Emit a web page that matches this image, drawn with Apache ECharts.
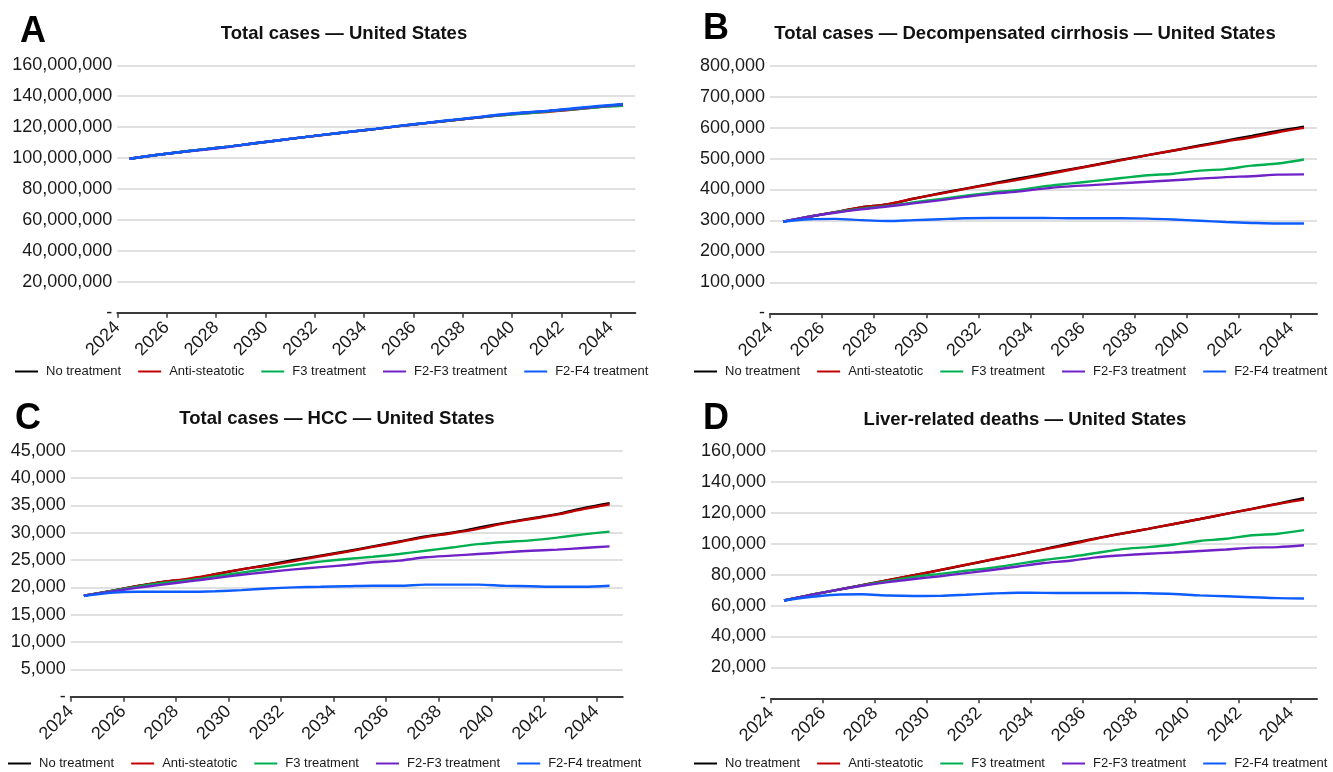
<!DOCTYPE html>
<html>
<head>
<meta charset="utf-8">
<script src="https://cdn.jsdelivr.net/npm/echarts@6/dist/echarts.min.js"></script>
<style>
html,body{margin:0;padding:0;background:#fff;}
#chart{width:1333px;height:772px;}
</style>
</head>
<body>
<div id="chart"></div>
<script>
// ---------- DATA ----------
const years = [2024,2025,2026,2027,2028,2029,2030,2031,2032,2033,2034,2035,2036,2037,2038,2039,2040,2041,2042,2043,2044];
const tickYears = [2024,2026,2028,2030,2032,2034,2036,2038,2040,2042,2044];
const seriesNames = ['No treatment','Anti-steatotic','F3 treatment','F2-F3 treatment','F2-F4 treatment'];

// Panel A: Total cases (millions)
const aNoTreatment = [99.6,101.8,103.8,105.6,107.4,109.4,111.4,113.4,115.3,117.1,118.9,120.8,122.6,124.3,126.0,127.8,129.3,130.5,131.8,133.3,134.7];
const aAntiSteatotic = [99.6,101.8,103.8,105.6,107.4,109.4,111.4,113.4,115.2,117.1,118.9,120.8,122.6,124.3,126.0,127.6,129.0,130.0,131.4,133.0,134.4];
const aF3 = [99.6,101.8,103.8,105.6,107.4,109.4,111.4,113.4,115.3,117.1,118.9,120.8,122.6,124.3,126.0,127.5,128.8,130.2,131.5,132.9,133.8];
const aF2F3 = [99.6,101.8,103.7,105.3,107.2,109.4,111.4,113.4,115.3,117.1,118.9,120.8,122.6,124.4,126.1,127.8,129.3,130.5,131.8,133.3,134.6];
const aF2F4 = [99.6,101.8,103.8,105.6,107.4,109.4,111.4,113.4,115.3,117.2,119.0,121.0,122.7,124.6,126.2,128.2,129.5,130.6,132.2,133.7,135.0];

// Panel B: Decompensated cirrhosis (thousands)
const bNoTreatment = [296,312,327,342,352,370,387,403,419,435,450,465,480,496,511,526,542,558,573,589,603];
const bAntiSteatotic = [296,312,327,342,352,370,386,402,417,431,447,463,479,495,511,526,540,555,569,585,599];
const bF3 = [296,312,326,338,347,358,369,380,390,398,410,419,428,437,446,451,461,466,477,484,497];
const bF2F3 = [296,312,325,336,345,355,365,376,386,393,403,410,415,420,425,430,435,440,443,448,449];
const bF2F4 = [296,304,305,301,298,301,304,307,308,308,308,307,307,307,306,303,299,295,292,290,290];

// Panel C: HCC (thousands)
const cNoTreatment = [18.5,19.3,20.2,21.0,21.5,22.4,23.3,24.1,25.0,25.8,26.6,27.5,28.4,29.3,30.0,30.9,31.8,32.6,33.4,34.5,35.4];
const cAntiSteatotic = [18.5,19.3,20.2,21.0,21.6,22.4,23.3,24.0,24.8,25.7,26.5,27.4,28.3,29.2,29.9,30.7,31.7,32.5,33.3,34.3,35.2];
const cF3 = [18.5,19.3,20.1,20.8,21.3,22.0,22.7,23.4,24.1,24.7,25.2,25.6,26.1,26.7,27.3,27.9,28.3,28.6,29.1,29.7,30.2];
const cF2F3 = [18.5,19.2,19.9,20.5,21.1,21.7,22.3,22.8,23.3,23.7,24.1,24.6,24.9,25.5,25.8,26.1,26.4,26.7,26.9,27.2,27.5];
const cF2F4 = [18.4,19.0,19.2,19.2,19.2,19.3,19.5,19.8,20.0,20.1,20.2,20.3,20.3,20.5,20.5,20.5,20.3,20.2,20.1,20.1,20.3];

// Panel D: Liver-related deaths (thousands)
const dNoTreatment = [63.3,66.8,70.0,73.2,76.4,79.6,82.9,86.3,89.7,93.0,96.5,100.2,103.5,106.6,109.6,112.8,116.0,119.3,122.6,126.0,129.4];
const dAntiSteatotic = [63.3,66.8,70.0,73.2,76.4,79.7,83.0,86.4,89.8,93.0,96.3,99.5,103.2,106.5,109.6,112.8,116.0,119.3,122.5,125.7,128.5];
const dF3 = [63.3,66.8,70.0,73.0,75.8,78.5,80.5,82.5,84.5,87.0,89.5,91.5,94.0,96.5,97.8,99.5,101.8,103.2,105.5,106.5,108.8];
const dF2F3 = [63.3,66.8,70.0,72.8,75.2,77.2,79.0,81.0,83.0,85.3,87.5,89.0,91.2,92.5,93.5,94.3,95.3,96.3,97.5,97.8,99.0];
const dF2F4 = [63.3,65.5,67.0,67.3,66.5,66.2,66.3,67.0,67.8,68.3,68.2,68.1,68.1,68.2,68.0,67.5,66.6,66.0,65.4,64.8,64.6];

const yTicksA = {max:160000000, interval:20000000};
const yTicksB = {max:800000, interval:100000};
const yTicksC = {max:45000, interval:5000};
const yTicksD = {max:160000, interval:20000};

const panelTitles = ['Total cases \u2014 United States','Total cases \u2014 Decompensated cirrhosis \u2014 United States','Total cases \u2014 HCC \u2014 United States','Liver-related deaths \u2014 United States'];
const panelLetters = ['A','B','C','D'];

// ---------- STYLE / LAYOUT ----------
const colors = ['#000000','#c00000','#00b050','#7022c8','#0d5cff'];
const FONT = "'Liberation Sans', Arial, sans-serif";
const panels = [
  {data:[aNoTreatment,aAntiSteatotic,aF3,aF2F3,aF2F4], unit:1e6, y:yTicksA,
   grid:{left:117.3, top:65.3, width:518, height:247.4}, title:{x:344, y:33}, letter:{x:20, y:32}, legend:{left:15, top:365}},
  {data:[bNoTreatment,bAntiSteatotic,bF3,bF2F3,bF2F4], unit:1e3, y:yTicksB,
   grid:{left:770, top:65.7, width:547, height:247.6}, title:{x:1025, y:33}, letter:{x:703, y:29}, legend:{left:694, top:365}},
  {data:[cNoTreatment,cAntiSteatotic,cF3,cF2F3,cF2F4], unit:1e3, y:yTicksC,
   grid:{left:70.7, top:450.7, width:552, height:246}, title:{x:337, y:418}, letter:{x:15, y:419}, legend:{left:8, top:757}},
  {data:[dNoTreatment,dAntiSteatotic,dF3,dF2F3,dF2F4], unit:1e3, y:yTicksD,
   grid:{left:771, top:451, width:546, height:247.3}, title:{x:1025, y:419}, letter:{x:703, y:419}, legend:{left:694, top:757}}
];

function fmt(v){ return v === 0 ? '-' : String(Math.round(v)).replace(/\B(?=(\d{3})+(?!\d))/g, ','); }

const option = {
  backgroundColor:'#ffffff',
  animation:false,
  grid:[], xAxis:[], yAxis:[], series:[], legend:[], title:[]
};

panels.forEach((p, k) => {
  option.grid.push(Object.assign({containLabel:false}, p.grid));
  option.xAxis.push({
    type:'value', gridIndex:k, min:2024, max:2045, interval:2,
    axisLine:{show:true, lineStyle:{color:'#3a3a3a', width:2}},
    axisTick:{show:true, customValues:tickYears, length:5, inside:false, lineStyle:{color:'#3a3a3a', width:1.5}},
    axisLabel:{customValues:tickYears, rotate:45, margin:12, fontSize:18, fontFamily:FONT, color:'#1a1a1a',
      formatter:(v)=>String(v)},
    splitLine:{show:false}
  });
  option.yAxis.push({
    type:'value', gridIndex:k, min:0, max:p.y.max, interval:p.y.interval,
    axisLine:{show:false}, axisTick:{show:false},
    axisLabel:{margin:5, fontSize:18, fontFamily:FONT, color:'#1a1a1a', formatter:fmt},
    splitLine:{show:true, lineStyle:{color:'#d6d6d6', width:1.5}}
  });
  p.data.forEach((arr, s) => {
    option.series.push({
      name:seriesNames[s], type:'line', xAxisIndex:k, yAxisIndex:k,
      data: years.map((yr, i) => [yr + 0.5, arr[i] * p.unit]),
      symbol:'none', smooth:0.3,
      lineStyle:{color:colors[s], width:2.4},
      itemStyle:{color:colors[s]},
      z: 2 + s
    });
  });
  option.legend.push({
    data:seriesNames, left:p.legend.left, top:p.legend.top, orient:'horizontal',
    icon:'rect', itemWidth:23, itemHeight:2, itemGap:17, padding:0,
    textStyle:{fontSize:13, fontFamily:FONT, color:'#1a1a1a', padding:[0,0,0,3]},
    selectedMode:false
  });
  option.title.push({
    text:panelTitles[k], left:p.title.x, top:p.title.y - 9, textAlign:'center', padding:0,
    textStyle:{fontSize:18.5, fontWeight:'bold', fontFamily:FONT, color:'#111'}
  });
  option.title.push({
    text:panelLetters[k], left:p.letter.x, top:p.letter.y - 18, padding:0,
    textStyle:{fontSize:36, fontWeight:'bold', fontFamily:FONT, color:'#000'}
  });
});

const chart = echarts.init(document.getElementById('chart'), null, {renderer:'canvas'});
chart.setOption(option);
</script>
</body>
</html>
